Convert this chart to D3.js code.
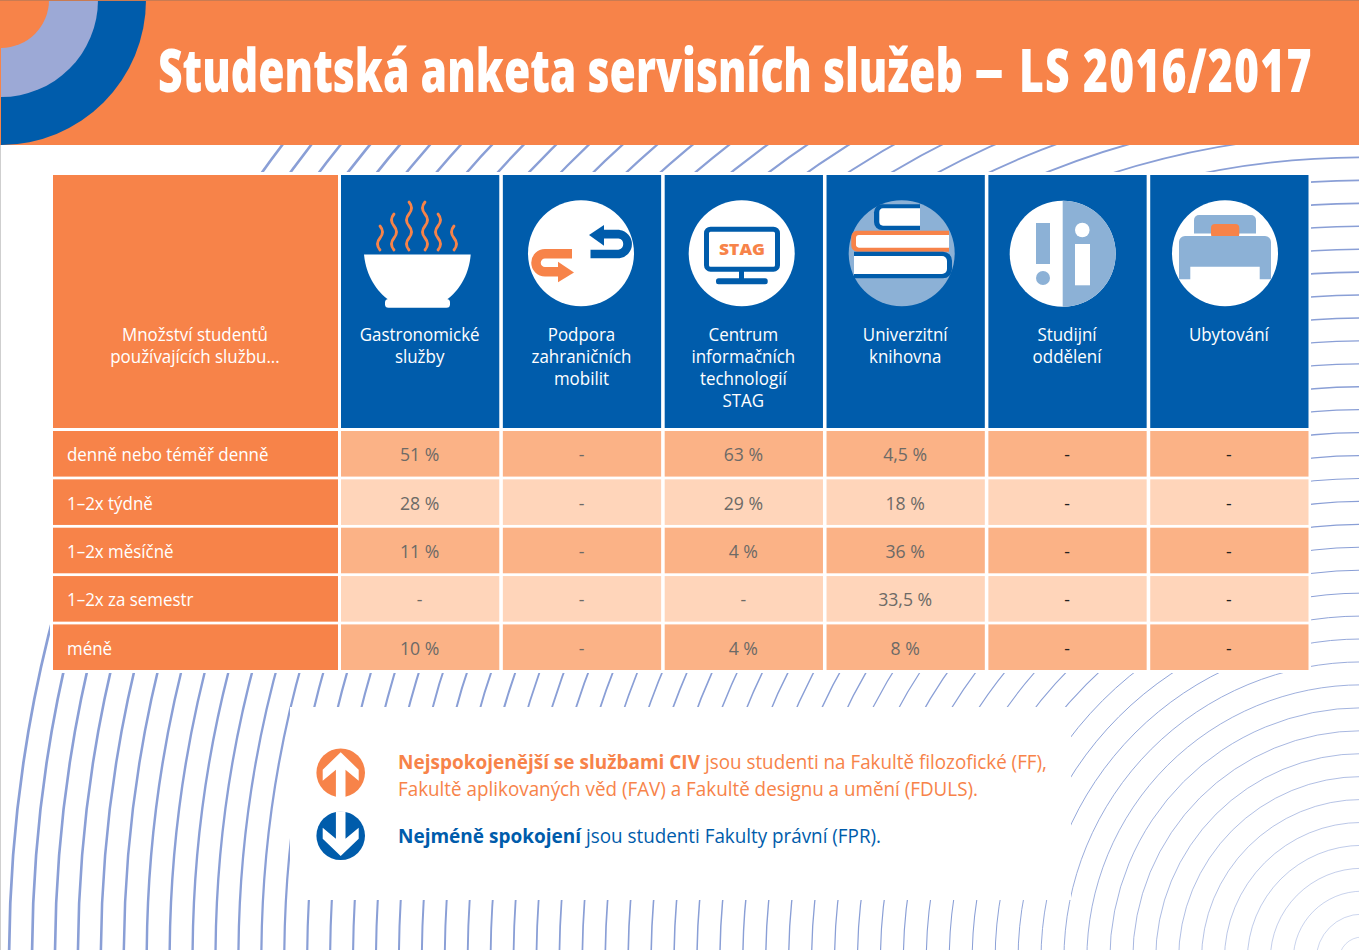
<!DOCTYPE html>
<html lang="cs">
<head>
<meta charset="utf-8">
<title>Studentská anketa servisních služeb</title>
<script src="https://cdn.jsdelivr.net/npm/d3@7"></script>
<style>
  html, body { margin: 0; background: #fff; }
  svg { display: block; }
  text { font-family: 'Open Sans', sans-serif; }
</style>
</head>
<body>
<svg id="chart" width="1359" height="950"></svg>
<script>
const titleMain = 'Studentská anketa servisních služeb';
const titleDash = '–';
const titleTerm = 'LS 2016/2017';
const cornerLabel = ['Množství studentů', 'používajících službu...'];
const services = [
  ['Gastronomické', 'služby'],
  ['Podpora', 'zahraničních', 'mobilit'],
  ['Centrum', 'informačních', 'technologií', 'STAG'],
  ['Univerzitní', 'knihovna'],
  ['Studijní', 'oddělení'],
  ['Ubytování'],
];
const frequencies = ['denně nebo téměř denně', '1–2x týdně', '1–2x měsíčně', '1–2x za semestr', 'méně'];
const gastro = [51, 28, 11, null, 10];
const mobility = [null, null, null, null, null];
const stag = [63, 29, 4, null, 4];
const library = [4.5, 18, 36, 33.5, 8];
const office = [null, null, null, null, null];
const housing = [null, null, null, null, null];
const seriesValues = [gastro, mobility, stag, library, office, housing];

const ORANGE = '#f78349';
const BLUE = '#005cab';
const LIGHT_BLUE = '#8cb1d6';
const RING = '#9ca9d6';
const ROW_FILLS = ['#fbb286', '#ffd5ba'];

const svg = d3.select('#chart');
const defs = svg.append('defs');

const fmt = v => (v === null ? '-' : `${String(v).replace('.', ',')} %`);

// squeeze Open Sans to the narrower widths of the original typeface
const squeeze = (sel, factor = 0.94) => {
  sel.each(function () {
    const len = this.getComputedTextLength();
    d3.select(this).attr('textLength', len * factor).attr('lengthAdjust', 'spacingAndGlyphs');
  });
  return sel;
};

const drawRings = () => {
  const cx = 1362;
  const cy = 960;
  const radii = d3.range(1, 60).map(k => k * 22.93);
  const width = d3.scaleLinear().domain([0, 1353]).range([0.35, 2.7]);
  svg.append('g')
    .selectAll('circle')
    .data(radii)
    .join('circle')
    .attr('cx', cx)
    .attr('cy', cy)
    .attr('r', d => d)
    .attr('fill', 'none')
    .attr('stroke', '#8a9fd6')
    .attr('stroke-width', d => width(d));

  // white knock-outs behind the table and the note
  svg.append('rect').attr('x', 50).attr('y', 172).attr('width', 1261).attr('height', 501).attr('fill', '#fff');
  svg.append('rect').attr('x', 290).attr('y', 707).attr('width', 781).attr('height', 193).attr('fill', '#fff');
};

const drawHeader = () => {
  svg.append('rect').attr('width', 1359).attr('height', 145).attr('fill', ORANGE);
  const quarter = d3.arc().innerRadius(0).startAngle(Math.PI / 2).endAngle(Math.PI);
  [[145, BLUE], [97, RING], [48, ORANGE]].forEach(([r, c]) => {
    svg.append('path').attr('d', quarter({ outerRadius: r })).attr('transform', 'translate(1,0)').attr('fill', c);
  });
  svg.append('rect').attr('width', 1359).attr('height', 1).attr('fill', '#c97b52');
  svg.append('rect').attr('y', 145).attr('width', 1).attr('height', 805).attr('fill', '#cfcfcf');

  const title = svg.append('text')
    .attr('font-size', 61)
    .attr('font-weight', 800)
    .attr('fill', '#fff');
  const main = title.append('tspan').attr('x', 0).text(titleMain);
  const sx = 805 / main.node().getComputedTextLength();
  title.attr('transform', `translate(158,92) scale(${sx},1)`);
  title.append('tspan').attr('x', 816 / sx).attr('dy', 5).attr('font-size', 86).attr('font-weight', 600).text(titleDash);
  title.append('tspan').attr('x', 861 / sx).attr('dy', -5).attr('letter-spacing', 1.7).text(titleTerm);
};

const x = d3.scaleBand().domain(d3.range(services.length)).range([341, 1308.5]).paddingInner(0.022);
const y = d3.scaleBand().domain(d3.range(frequencies.length)).range([431, 670]).paddingInner(0.057);

const drawTable = () => {
  const g = svg.append('g');
  g.append('rect').attr('x', 53).attr('y', 175).attr('width', 285).attr('height', 253).attr('fill', ORANGE);
  squeeze(g.selectAll('text.corner')
    .data(cornerLabel)
    .join('text')
    .attr('class', 'corner')
    .attr('x', 195)
    .attr('y', (d, i) => 341 + i * 22)
    .attr('text-anchor', 'middle')
    .attr('font-size', 18)
    .attr('fill', '#fff')
    .text(d => d));

  const cols = g.selectAll('g.col').data(services).join('g').attr('class', 'col')
    .attr('transform', (d, i) => `translate(${x(i)},0)`);
  cols.append('rect').attr('y', 175).attr('width', x.bandwidth()).attr('height', 253).attr('fill', BLUE);
  cols.each(function (lines) {
    squeeze(d3.select(this).selectAll('text')
      .data(lines)
      .join('text')
      .attr('x', x.bandwidth() / 2 - 0.5)
      .attr('y', (d, i) => 341 + i * 21.9)
      .attr('text-anchor', 'middle')
      .attr('font-size', 18)
      .attr('fill', '#fff')
      .text(d => d));
  });

  const rows = g.selectAll('g.row').data(frequencies).join('g').attr('class', 'row')
    .attr('transform', (d, i) => `translate(0,${y(i)})`);
  rows.append('rect').attr('x', 53).attr('width', 285).attr('height', y.bandwidth()).attr('fill', ORANGE);
  squeeze(rows.append('text')
    .attr('x', 67)
    .attr('y', y.bandwidth() / 2 + 7.5)
    .attr('font-size', 18)
    .attr('fill', '#fff')
    .text(d => d));

  rows.each(function (d, r) {
    const cells = d3.select(this).selectAll('g.cell').data(seriesValues.map(s => s[r])).join('g').attr('class', 'cell');
    cells.append('rect')
      .attr('x', (v, c) => x(c))
      .attr('width', x.bandwidth())
      .attr('height', y.bandwidth())
      .attr('fill', ROW_FILLS[r % 2]);
    squeeze(cells.append('text')
      .attr('x', (v, c) => x(c) + x.bandwidth() / 2 - 0.5)
      .attr('y', y.bandwidth() / 2 + 7.5)
      .attr('text-anchor', 'middle')
      .attr('font-size', 18)
      .attr('fill', (v, c) => (c >= 4 ? '#222' : '#6d6a66'))
      .text(fmt), 0.98);
  });
};

const circle = (g, cx, cy, r, fill) =>
  g.append('circle').attr('cx', cx).attr('cy', cy).attr('r', r).attr('fill', fill);
const box = (g, x0, y0, x1, y1, fill, rx = 0) =>
  g.append('rect').attr('x', x0).attr('y', y0).attr('width', x1 - x0).attr('height', y1 - y0).attr('rx', rx).attr('fill', fill);

const drawBowl = g => {
  g.append('path')
    .attr('d', 'M364 254.5H470.7C469 276 458 292 446 300H389C377 292 366 276 364 254.5Z')
    .attr('fill', '#fff');
  box(g, 385, 299, 450, 307.7, '#fff', 3.5);
  [[380, 250, 2], [394, 250, 3], [409, 250, 4], [425, 250, 4], [438, 250, 3], [454, 250, 2]].forEach(([sx, sy, n], i) => {
    const sign = i < 3 ? 1 : -1;
    const half = 12;
    let d = `M${sx} ${sy}q${-5 * sign} -6 0 ${-half}`;
    for (let k = 1; k < n; k++) d += `t0 ${-half}`;
    g.append('path').attr('d', d).attr('fill', 'none').attr('stroke', ORANGE).attr('stroke-width', 2.8).attr('stroke-linecap', 'round');
  });
};

const drawExchange = g => {
  circle(g, 581, 253.3, 53, '#fff');
  g.append('path').attr('d', 'M572 253.7H545A9 9 0 0 0 545 271.7H558').attr('fill', 'none').attr('stroke', ORANGE).attr('stroke-width', 9.5);
  g.append('path').attr('d', 'M558 261.7L574 272.5L558 282.3Z').attr('fill', ORANGE);
  g.append('path').attr('d', 'M604 234.2H619A10 10 0 0 1 619 254H590.5').attr('fill', 'none').attr('stroke', BLUE).attr('stroke-width', 8.7);
  g.append('path').attr('d', 'M604 225L589 235L604 245.7Z').attr('fill', BLUE);
};

const drawMonitor = g => {
  circle(g, 741.7, 253.3, 53, '#fff');
  g.append('rect').attr('x', 706.5).attr('y', 229.2).attr('width', 71).attr('height', 40).attr('rx', 4)
    .attr('fill', 'none').attr('stroke', BLUE).attr('stroke-width', 5);
  box(g, 739, 270, 744, 279, BLUE);
  box(g, 716, 278.3, 767.7, 284.3, BLUE, 2.5);
  g.append('text').attr('x', 742).attr('y', 255).attr('text-anchor', 'middle')
    .attr('font-size', 16.5).attr('font-weight', 800).attr('fill', ORANGE)
    .attr('textLength', 46).attr('lengthAdjust', 'spacingAndGlyphs').text('STAG');
};

const drawBooks = g => {
  circle(g, 901.7, 253.3, 53, LIGHT_BLUE);
  g.append('path').attr('d', 'M920 204.3H882A8 8 0 0 0 874 212.3V222A8 8 0 0 0 882 230H920Z').attr('fill', BLUE);
  g.append('path').attr('d', 'M920 208.3H883A4 4 0 0 0 879.3 212.3V222A4 4 0 0 0 883 225.7H920Z').attr('fill', '#fff');
  g.append('path').attr('d', 'M949 230.7H857A6 6 0 0 0 851.3 236.7V245.7A6 6 0 0 0 857 251.7H949Z').attr('fill', ORANGE);
  g.append('path').attr('d', 'M949 235H859A3 3 0 0 0 856 238V244A3 3 0 0 0 859 247.7H949Z').attr('fill', '#fff');
  g.append('path').attr('d', 'M854 251.7H943A9 9 0 0 1 952 260.7V269.3A9 9 0 0 1 943 278.3H854Z').attr('fill', BLUE);
  g.append('path').attr('d', 'M854 256H942A5 5 0 0 1 947 261V269A5 5 0 0 1 942 274H854Z').attr('fill', '#fff');
};

const drawInfo = g => {
  circle(g, 1062.7, 253.7, 53, '#fff');
  g.append('path').attr('d', 'M1062.7 200.7A53 53 0 0 1 1062.7 306.7Z').attr('fill', LIGHT_BLUE);
  box(g, 1036, 223, 1050, 264, LIGHT_BLUE);
  circle(g, 1043, 278, 7, LIGHT_BLUE);
  circle(g, 1082.3, 230, 7.3, '#fff');
  box(g, 1075, 244, 1090, 285.3, '#fff');
};

const drawBed = g => {
  defs.append('clipPath').attr('id', 'bed-clip').append('circle').attr('cx', 1225).attr('cy', 253.3).attr('r', 53);
  circle(g, 1225, 253.3, 53, '#fff');
  const c = g.append('g').attr('clip-path', 'url(#bed-clip)');
  c.append('path').attr('d', 'M1194 233.5V220A5 5 0 0 1 1199 215H1251A5 5 0 0 1 1256 220V233.5Z').attr('fill', LIGHT_BLUE);
  box(c, 1211, 224, 1239.3, 238, ORANGE, 4);
  c.append('path').attr('d', 'M1179 279.3V242A6 6 0 0 1 1185 236H1265A6 6 0 0 1 1271 242V279.3H1259.7V266.7H1190.3V279.3Z').attr('fill', LIGHT_BLUE);
};

const drawIcons = () => {
  const g = svg.append('g');
  [drawBowl, drawExchange, drawMonitor, drawBooks, drawInfo, drawBed].forEach(fn => fn(g.append('g')));
};

const drawNote = () => {
  const g = svg.append('g');
  const arrow = 'M0 -20.4L-18 -3V8L-4.8 -3V24.5H4.8V-3L18 8V-3Z';
  circle(g, 340.7, 772.7, 24.3, ORANGE);
  g.append('path').attr('d', arrow).attr('transform', 'translate(340.7,772.7)').attr('fill', '#fff');
  circle(g, 340.7, 835.7, 24.3, BLUE);
  g.append('path').attr('d', arrow).attr('transform', 'translate(340.7,835.7) scale(1,-1)').attr('fill', '#fff');

  const runs = [
    ['Nejspokojenější se službami CIV', 398, 769, 302, 700, ORANGE],
    ['jsou studenti na Fakultě filozofické (FF),', 705, 769, 342, 400, ORANGE],
    ['Fakultě aplikovaných věd (FAV) a Fakultě designu a umění (FDULS).', 398, 796, 580, 400, ORANGE],
    ['Nejméně spokojení', 398, 843, 183, 700, BLUE],
    ['jsou studenti Fakulty právní (FPR).', 586, 843, 295, 400, BLUE],
  ];
  g.selectAll('text')
    .data(runs)
    .join('text')
    .attr('x', d => d[1])
    .attr('y', d => d[2])
    .attr('textLength', d => d[3])
    .attr('lengthAdjust', 'spacingAndGlyphs')
    .attr('font-weight', d => d[4])
    .attr('fill', d => d[5])
    .attr('font-size', 20)
    .text(d => d[0]);
};

drawRings();
drawHeader();
drawTable();
drawIcons();
drawNote();
</script>
</body>
</html>
